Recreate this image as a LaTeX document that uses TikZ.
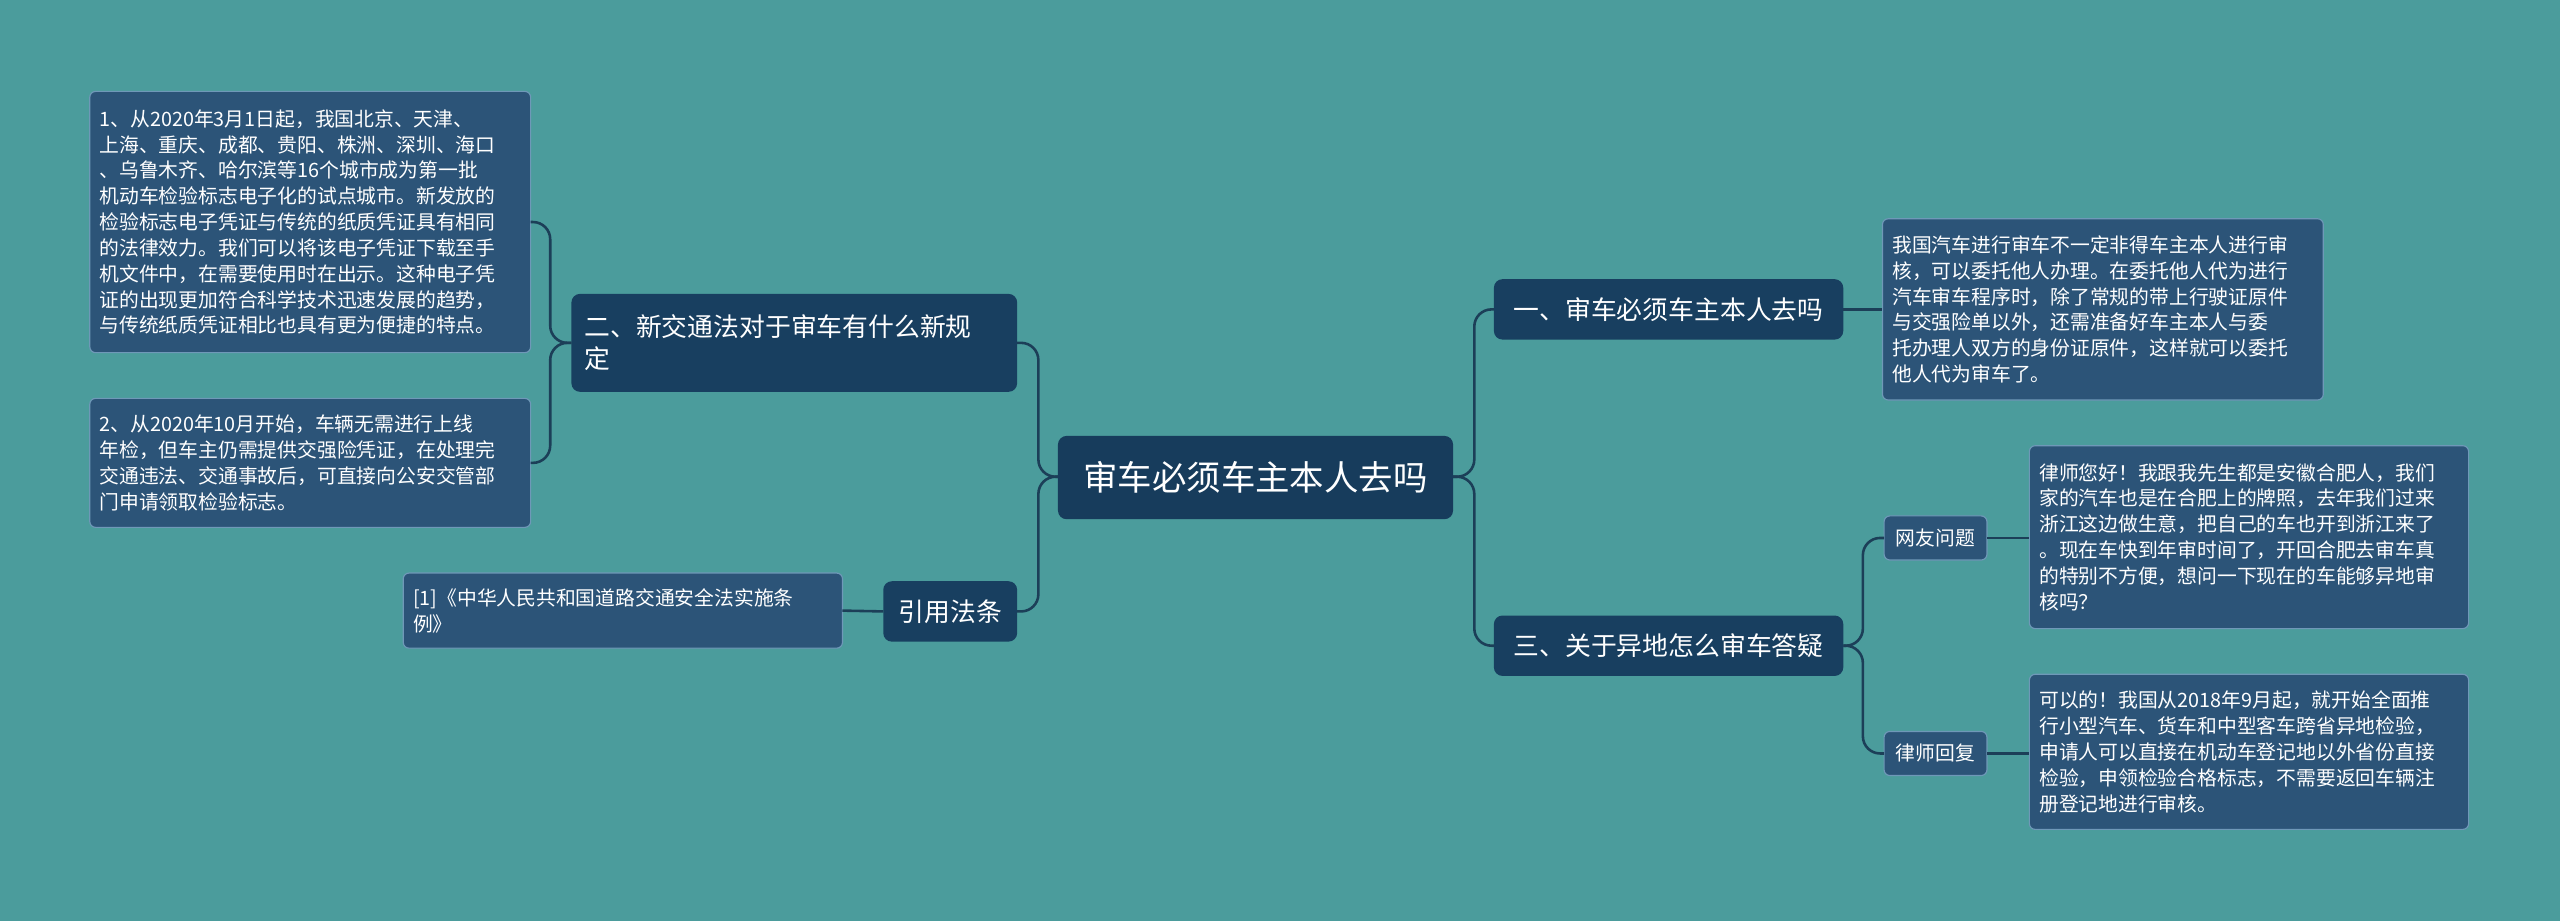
\documentclass[tikz,border=0pt]{standalone}
\usepackage{fontspec}
\setmainfont{Noto Sans CJK SC}
\begin{document}
\begin{tikzpicture}[x=0.02cm,y=-0.02cm,
  every node/.style={inner sep=0pt,outer sep=0pt},
  rootbox/.style={draw=none,fill=root,rounded corners=3pt,text=white,font=\fontsize{12pt}{14pt}\selectfont},
  midbox/.style={fill=mid,rounded corners=3pt,text=white,font=\fontsize{9pt}{11pt}\selectfont,align=left},
  smallbox/.style={fill=leaf,draw=leafb,line width=0.4pt,rounded corners=2pt,text=white,font=\fontsize{6.9pt}{8pt}\selectfont},
  leafbox/.style={fill=leaf,draw=leafb,line width=0.4pt,rounded corners=2pt,text=white,font=\fontsize{6.9pt}{9pt}\selectfont,align=left},
  conn/.style={draw=linec,line width=0.9pt,rounded corners=6pt}]
\definecolor{bg}{HTML}{4B9C9C}
\definecolor{root}{HTML}{173C5C}
\definecolor{mid}{HTML}{183F60}
\definecolor{leaf}{HTML}{2C5478}
\definecolor{leafb}{HTML}{6F98B8}
\definecolor{linec}{HTML}{1C3F58}
\fill[bg] (0,0) rectangle (1568,564);
\useasboundingbox (0,0) rectangle (1568,564);
\path[rootbox] (648,267) rectangle (890,318);
\node[rootbox,fill=none] (root) at (769,292.5) {审车必须车主本人去吗};
\coordinate (rootL) at (648,292); \coordinate (rootR) at (890,292);

\path[midbox] (350,180) rectangle (623,240);
\node[midbox,fill=none,anchor=west] (a) at (358,210) {二、新交通法对于审车有什么新规\\定};
\coordinate (aR) at (623,210); \coordinate (aL) at (350,210);
\path[midbox] (541,356) rectangle (623,393);
\node[midbox,fill=none] (b) at (582,374.5) {引用法条};
\coordinate (bR) at (623,374.5); \coordinate (bL) at (541,374.5);
\path[midbox] (915,171) rectangle (1129,208);
\node[midbox,fill=none] (c) at (1022,189.5) {一、审车必须车主本人去吗};
\coordinate (cL) at (915,189.5); \coordinate (cR) at (1129,189.5);
\path[midbox] (915,377) rectangle (1129,414);
\node[midbox,fill=none] (d) at (1022,395.5) {三、关于异地怎么审车答疑};
\coordinate (dL) at (915,395.5); \coordinate (dR) at (1129,395.5);

\path[leafbox] (55,56) rectangle (325,216);
\node[leafbox,draw=none,fill=none,anchor=west] (l1) at (61,136) {1、从2020年3月1日起，我国北京、天津、\\上海、重庆、成都、贵阳、株洲、深圳、海口\\、乌鲁木齐、哈尔滨等16个城市成为第一批\\机动车检验标志电子化的试点城市。新发放的\\检验标志电子凭证与传统的纸质凭证具有相同\\的法律效力。我们可以将该电子凭证下载至手\\机文件中，在需要使用时在出示。这种电子凭\\证的出现更加符合科学技术迅速发展的趋势，\\与传统纸质凭证相比也具有更为便捷的特点。};
\coordinate (l1R) at (325,136);
\path[leafbox] (55,244) rectangle (325,323);
\node[leafbox,draw=none,fill=none,anchor=west] (l2) at (61,283.5) {2、从2020年10月开始，车辆无需进行上线\\年检，但车主仍需提供交强险凭证，在处理完\\交通违法、交通事故后，可直接向公安交管部\\门申请领取检验标志。};
\coordinate (l2R) at (325,283.5);
\path[leafbox] (247,351) rectangle (516,397);
\node[leafbox,draw=none,fill=none,anchor=west] (l3) at (253,374) {[1]《中华人民共和国道路交通安全法实施条\\例》};
\coordinate (l3R) at (516,374);
\path[leafbox] (1153,134) rectangle (1423,245);
\node[leafbox,draw=none,fill=none,anchor=west] (r1) at (1159,189.5) {我国汽车进行审车不一定非得车主本人进行审\\核，可以委托他人办理。在委托他人代为进行\\汽车审车程序时，除了常规的带上行驶证原件\\与交强险单以外，还需准备好车主本人与委\\托办理人双方的身份证原件，这样就可以委托\\他人代为审车了。};
\coordinate (r1L) at (1153,189.5);
\path[smallbox] (1154,316) rectangle (1217,343);
\node[smallbox,draw=none,fill=none] (q) at (1185.5,329.5) {网友问题};
\coordinate (qL) at (1154,329.5); \coordinate (qR) at (1217,329.5);
\path[smallbox] (1154,448) rectangle (1217,475);
\node[smallbox,draw=none,fill=none] (ans) at (1185.5,461.5) {律师回复};
\coordinate (ansL) at (1154,461.5); \coordinate (ansR) at (1217,461.5);
\path[leafbox] (1243,273) rectangle (1512,385);
\node[leafbox,draw=none,fill=none,anchor=west] (r2) at (1249,329) {律师您好！我跟我先生都是安徽合肥人，我们\\家的汽车也是在合肥上的牌照，去年我们过来\\浙江这边做生意，把自己的车也开到浙江来了\\。现在车快到年审时间了，开回合肥去审车真\\的特别不方便，想问一下现在的车能够异地审\\核吗？};
\coordinate (r2L) at (1243,329.5);
\path[leafbox] (1243,413) rectangle (1512,508);
\node[leafbox,draw=none,fill=none,anchor=west] (r3) at (1249,460.5) {可以的！我国从2018年9月起，就开始全面推\\行小型汽车、货车和中型客车跨省异地检验，\\申请人可以直接在机动车登记地以外省份直接\\检验，申领检验合格标志，不需要返回车辆注\\册登记地进行审核。};
\coordinate (r3L) at (1243,461.5);

\draw[conn] (rootL) -- (636,292) |- (aR);
\draw[conn] (rootL) -- (636,292) |- (bR);
\draw[conn] (rootR) -- (903,292) |- (cL);
\draw[conn] (rootR) -- (903,292) |- (dL);
\draw[conn] (aL) -- (337,210) |- (l1R);
\draw[conn] (aL) -- (337,210) |- (l2R);
\draw[conn] (bL) -- (l3R);
\draw[conn] (cR) -- (r1L);
\draw[conn] (dR) -- (1141,395.5) |- (qL);
\draw[conn] (dR) -- (1141,395.5) |- (ansL);
\draw[conn] (qR) -- (r2L);
\draw[conn] (ansR) -- (r3L);
\end{tikzpicture}
\end{document}
